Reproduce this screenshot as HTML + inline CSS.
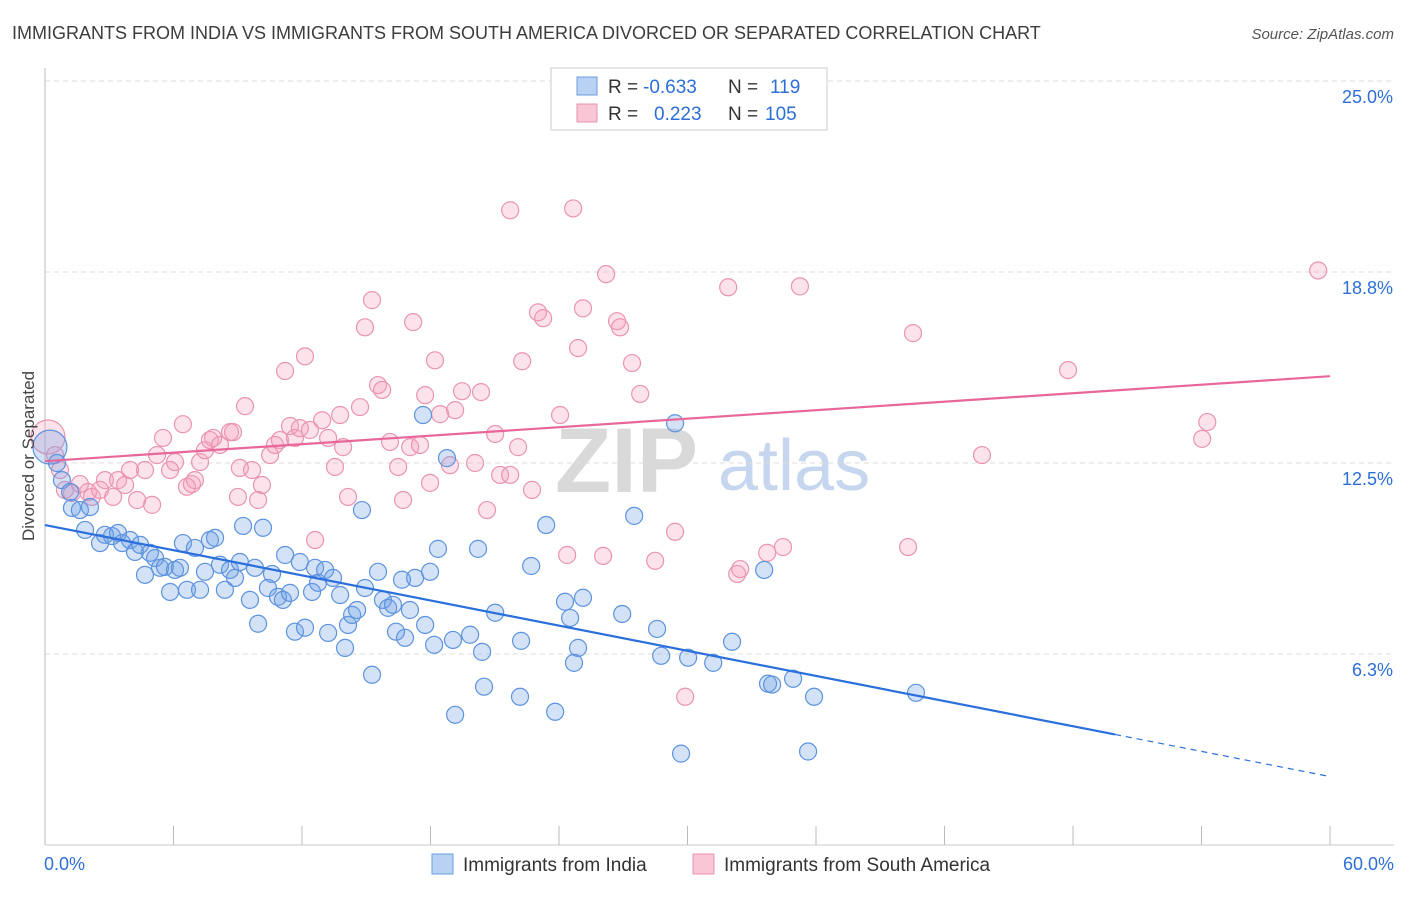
<!DOCTYPE html>
<html><head><meta charset="utf-8"><style>
body{margin:0;background:#fff;font-family:"Liberation Sans",sans-serif;}
svg text{font-family:"Liberation Sans",sans-serif;}
</style></head><body>
<svg id="chart" width="1406" height="892" viewBox="0 0 1406 892" xmlns="http://www.w3.org/2000/svg">
<text x="12" y="39" font-size="18" fill="#3c3c3c">IMMIGRANTS FROM INDIA VS IMMIGRANTS FROM SOUTH AMERICA DIVORCED OR SEPARATED CORRELATION CHART</text>
<text x="1394" y="39" font-size="15" fill="#555" text-anchor="end" font-style="italic">Source: ZipAtlas.com</text>
<g>
<text x="555" y="492" font-size="92" fill="#d9d9d9" font-family="Liberation Serif" font-weight="bold">ZIP</text>
<text x="718" y="490" font-size="72" fill="#c5d6ee">atlas</text>
</g>
<g id="grid"></g>
<g id="axes"></g>
<g id="pts"></g>
<g id="lines"></g>
<text transform="translate(34,456) rotate(-90)" font-size="17" fill="#444" text-anchor="middle">Divorced or Separated</text>
<g>
<rect x="551" y="68" width="276" height="62" fill="#fff" stroke="#ccc"/>
<rect x="577" y="77" width="20" height="18" fill="#b9d1f3" stroke="#6a9ee0"/>
<rect x="577" y="104" width="20" height="18" fill="#f8c6d5" stroke="#e894b0"/>
<text x="608" y="93" font-size="19" fill="#333">R =</text>
<text x="643" y="93" font-size="19" fill="#2d6fd6">-0.633</text>
<text x="728" y="93" font-size="19" fill="#333">N =</text>
<text x="770" y="93" font-size="19" fill="#2d6fd6">119</text>
<text x="608" y="120" font-size="19" fill="#333">R =</text>
<text x="654" y="120" font-size="19" fill="#2d6fd6">0.223</text>
<text x="728" y="120" font-size="19" fill="#333">N =</text>
<text x="765" y="120" font-size="19" fill="#2d6fd6">105</text>
</g>
<g>
<rect x="432" y="854" width="21" height="20" fill="#b9d1f3" stroke="#6a9ee0"/>
<text x="463" y="871" font-size="19" fill="#333">Immigrants from India</text>
<rect x="693" y="854" width="21" height="20" fill="#f8c6d5" stroke="#e894b0"/>
<text x="724" y="871" font-size="19" fill="#333">Immigrants from South America</text>
</g>
</svg>
<script>
const xTicks=[0,6,12,18,24,30,36,42,48,54,60];
const yTicks=[6.25,12.5,18.75,25];
const yTickLabels=["6.3%","12.5%","18.8%","25.0%"];
const indiaX=[0.23,0.56,0.79,1.17,1.26,1.63,2.1,1.87,2.57,2.8,3.13,3.41,3.6,3.97,4.2,4.44,4.67,4.9,5.14,5.37,5.6,5.84,6.07,6.3,6.44,6.63,7.0,7.24,7.47,7.7,7.94,8.17,8.4,8.64,8.87,9.1,9.25,9.57,9.8,9.95,10.18,10.41,10.6,10.88,11.11,11.44,11.21,11.67,11.9,12.14,12.47,12.61,12.75,13.08,13.22,13.45,13.78,14.01,14.15,14.34,14.57,14.8,14.94,15.27,15.55,15.78,16.02,16.25,16.39,16.67,16.81,17.04,17.28,17.65,17.75,17.98,18.17,18.35,18.77,19.05,19.15,19.85,20.22,20.41,20.5,21.02,22.18,22.23,22.7,23.4,23.82,24.28,24.52,24.7,24.89,25.12,26.95,27.51,28.58,28.77,29.42,29.7,30.03,31.2,32.08,33.58,33.76,33.95,34.93,35.63,35.91,40.67];
const indiaY=[13.02,12.5,11.94,11.55,11.03,10.96,11.06,10.31,9.88,10.15,10.11,10.21,9.88,9.98,9.59,9.82,8.84,9.56,9.39,9.07,9.1,8.28,9.0,9.07,9.88,8.35,9.72,8.35,8.94,9.98,10.05,9.17,8.35,9.0,8.74,9.26,10.44,8.02,9.07,7.24,10.38,8.41,8.87,8.12,8.02,8.25,9.49,6.98,9.26,7.11,8.28,9.07,8.58,9.0,6.94,8.74,8.18,6.45,7.2,7.53,7.69,10.96,8.41,5.57,8.94,8.02,7.76,7.86,6.98,8.68,6.78,7.69,8.74,14.07,7.2,8.94,6.55,9.69,12.66,6.71,4.26,6.88,9.69,6.32,5.18,7.6,4.85,6.68,9.13,10.47,4.36,7.96,7.43,5.96,6.45,8.09,7.56,10.77,7.07,6.19,13.8,2.99,6.13,5.96,6.65,9.0,5.28,5.25,5.44,3.06,4.85,4.98];
const saX=[0.14,0.47,0.7,0.93,1.26,1.63,2.01,2.19,2.57,2.8,3.18,3.41,3.74,3.97,4.3,4.67,5.0,5.23,5.51,5.84,6.07,6.44,6.63,6.86,7.0,7.24,7.47,7.7,7.85,8.17,8.64,8.78,9.01,9.1,9.34,9.67,9.95,10.13,10.51,10.74,10.97,11.21,11.44,11.67,11.9,12.14,12.37,12.61,12.94,13.22,13.54,13.78,13.92,14.15,14.71,14.94,15.27,15.55,15.74,16.11,16.49,16.72,17.05,17.19,17.51,17.75,17.98,18.21,18.45,18.91,19.15,19.47,20.08,20.36,20.64,21.02,21.25,21.72,21.72,22.09,22.28,22.74,23.02,23.26,24.05,24.38,24.66,24.89,25.12,26.06,26.2,26.71,26.85,27.41,27.79,28.49,29.42,29.89,31.9,32.32,32.46,33.72,34.46,35.25,40.3,40.53,43.75,47.77,54.03,54.27,59.45];
const saY=[13.35,12.76,12.27,11.62,11.52,11.81,11.55,11.39,11.62,11.94,11.39,11.94,11.78,12.27,11.29,12.27,11.13,12.76,13.32,12.27,12.53,13.77,11.72,11.81,11.94,12.53,12.92,13.25,13.32,13.09,13.51,13.51,11.39,12.34,14.36,12.27,11.29,11.78,12.76,13.09,13.25,15.51,13.71,13.32,13.64,15.99,13.58,9.98,13.9,13.32,12.37,14.07,13.02,11.39,14.33,16.94,17.83,15.05,14.89,13.19,12.37,11.29,13.02,17.11,13.09,14.72,11.85,15.86,14.1,12.43,14.23,14.85,12.5,14.82,10.96,13.45,12.11,12.11,20.77,13.02,15.83,11.62,17.43,17.24,14.07,9.49,20.83,16.26,17.56,9.46,18.68,17.14,16.94,15.77,14.76,9.3,10.25,4.85,18.25,8.87,9.03,9.56,9.75,18.28,9.75,16.75,12.76,15.54,13.29,13.84,18.8];
const indiaTrend=[10.47,2.24];
const saTrend=[12.56,15.34];
const NS='http://www.w3.org/2000/svg';
const X=v=>45+v/60*1285;
const Y=v=>845-v/25*764;
function mk(tag,attrs,parent){const e=document.createElementNS(NS,tag);for(const k in attrs)e.setAttribute(k,attrs[k]);parent.appendChild(e);return e;}
const grid=document.getElementById('grid'),axes=document.getElementById('axes'),pts=document.getElementById('pts'),lines=document.getElementById('lines');
yTicks.forEach((t,i)=>{
 const g=mk('line',{x1:45,x2:1394,y1:Y(t),y2:Y(t),stroke:'#dcdcdc','stroke-dasharray':'5,4'},grid);
 
 
 const l=mk('text',{x:1393,y:Y(t)+22,'font-size':18,fill:'#2d6fd6','text-anchor':'end'},axes);
 l.textContent=yTickLabels[i];
 
 
});
const ax=mk('line',{x1:45,x2:45,y1:68,y2:845,stroke:'#bbb'},axes);


const bx=mk('line',{x1:45,x2:1394,y1:845,y2:845,stroke:'#ccc'},axes);


xTicks.forEach(t=>{
 const k=mk('line',{x1:X(t),x2:X(t),y1:826,y2:845,stroke:'#bbb'},axes);
 
 
});
const xl0=mk('text',{x:44,y:870,'font-size':18,fill:'#2d6fd6'},axes);xl0.textContent=xTicks[0].toFixed(1)+'%';


const xl1=mk('text',{x:1394,y:870,'font-size':18,fill:'#2d6fd6','text-anchor':'end'},axes);xl1.textContent=xTicks[xTicks.length-1].toFixed(1)+'%';


function dots(xs,ys,fill,stroke,name){xs.forEach((x,i)=>{
 const r=(x<0.3)?17:8.5;
 const c=mk('circle',{cx:X(x),cy:Y(ys[i]),r:r,fill:fill,stroke:stroke,'stroke-width':1.2},pts);
 
 
});}
dots(saX,saY,'rgba(244,160,190,0.3)','#e994b2','point-south-america');
dots(indiaX,indiaY,'rgba(110,160,230,0.3)','#5d93de','point-india');
const xe=(1115-45)/1285*60;
const iv=indiaTrend[0]+(indiaTrend[1]-indiaTrend[0])*xe/60;
const l1=mk('line',{x1:X(0),y1:Y(indiaTrend[0]),x2:X(xe),y2:Y(iv),stroke:'#2a6fdb','stroke-width':2.2},lines);


const l2=mk('line',{x1:X(xe),y1:Y(iv),x2:X(60),y2:Y(indiaTrend[1]),stroke:'#2a6fdb','stroke-width':1.2,'stroke-dasharray':'6,5'},lines);


const l3=mk('line',{x1:X(0),y1:Y(saTrend[0]),x2:X(60),y2:Y(saTrend[1]),stroke:'#e8679a','stroke-width':2.2},lines);


</script>
</body></html>
